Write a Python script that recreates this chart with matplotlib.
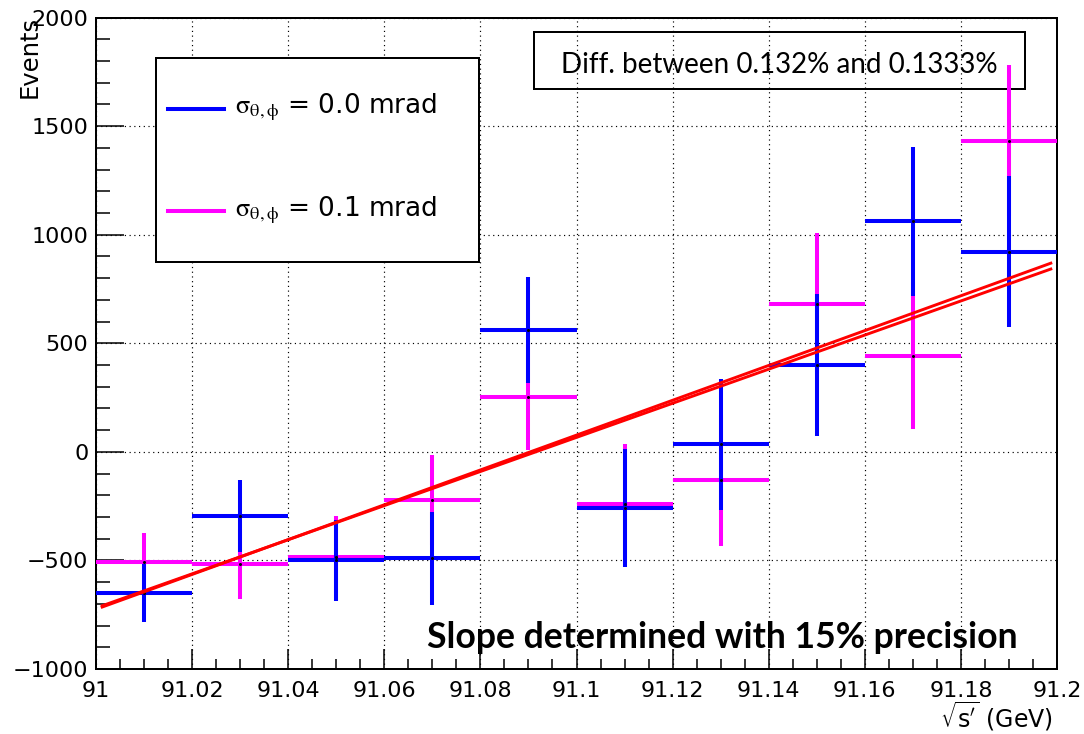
import matplotlib
matplotlib.use("Agg")
import matplotlib.pyplot as plt
import numpy as np
from matplotlib.patches import Rectangle
from matplotlib.lines import Line2D
from matplotlib.ticker import MultipleLocator, FixedLocator, FixedFormatter

# ---------------- data ----------------
bin_centers = [91.01, 91.03, 91.05, 91.07, 91.09, 91.11, 91.13, 91.15, 91.17, 91.19]
bin_halfwidths = [0.01, 0.01, 0.01, 0.01, 0.01, 0.01, 0.01, 0.01, 0.01, 0.01]

blue_values = [-650, -296, -500, -490, 560, -258, 34, 400, 1061, 922]
blue_errors = [134, 165, 185, 213, 245, 273, 301, 325, 342, 348]

magenta_values = [-508, -517, -483, -222, 253, -238, -132, 682, 443, 1432]
magenta_errors = [134, 161, 188, 207, 246, 273, 302, 324, 340, 347]

fit_x_range = [91.001, 91.199]
fit_a_ends = [-717, 871]
fit_b_ends = [-711, 844]

x_ticks = [91.0, 91.02, 91.04, 91.06, 91.08, 91.1, 91.12, 91.14, 91.16, 91.18, 91.2]
x_tick_labels = ["91", "91.02", "91.04", "91.06", "91.08", "91.1", "91.12",
                 "91.14", "91.16", "91.18", "91.2"]
y_ticks = [-1000, -500, 0, 500, 1000, 1500, 2000]
y_tick_labels = ["\u22121000", "\u2212500", "0", "500", "1000", "1500", "2000"]

legend_labels = [r"$\mathrm{\sigma}_{\mathrm{\theta,\phi}}$ = 0.0 mrad",
                 r"$\mathrm{\sigma}_{\mathrm{\theta,\phi}}$ = 0.1 mrad"]
BLUE = "#0000ff"
MAGENTA = "#ff00ff"
RED = "#ff0000"

# ---------------- figure ----------------
W, H = 1084, 734
fig = plt.figure(figsize=(W / 100, H / 100), dpi=100)
fig.patch.set_facecolor("white")


def fx(px):
    return px / W


def fy(py):
    return 1 - py / H


ax = fig.add_axes([fx(96), fy(669), (1057 - 96) / W, (669 - 17.5) / H])
ax.set_xlim(91.0, 91.2)
ax.set_ylim(-1000, 2000)

ax.errorbar(bin_centers, magenta_values, xerr=bin_halfwidths, yerr=magenta_errors,
            fmt="none", ecolor=MAGENTA, elinewidth=2.9, capsize=0, zorder=3)
ax.errorbar(bin_centers, blue_values, xerr=bin_halfwidths, yerr=blue_errors,
            fmt="none", ecolor=BLUE, elinewidth=2.9, capsize=0, zorder=4)
ax.plot(bin_centers, magenta_values, linestyle="none", marker="o", ms=1.2,
        color="black", zorder=4.5)
ax.plot(bin_centers, blue_values, linestyle="none", marker="o", ms=1.2,
        color="black", zorder=4.5)

fx_line = np.linspace(fit_x_range[0], fit_x_range[1], 50)
for ends in (fit_a_ends, fit_b_ends):
    yv = np.interp(fx_line, fit_x_range, ends)
    ax.plot(fx_line, yv, color=RED, lw=2.1, zorder=5, solid_capstyle="butt")

# grid
ax.set_axisbelow(True)
ax.grid(True, which="major", color="black", linestyle=(0, (1, 3)), linewidth=0.85)

# ticks
ax.xaxis.set_major_locator(FixedLocator(x_ticks))
ax.xaxis.set_major_formatter(FixedFormatter(x_tick_labels))
ax.yaxis.set_major_locator(FixedLocator(y_ticks))
ax.yaxis.set_major_formatter(FixedFormatter(y_tick_labels))
ax.xaxis.set_minor_locator(MultipleLocator(0.005))
ax.yaxis.set_minor_locator(MultipleLocator(100))
ax.tick_params(axis="x", which="major", direction="in", length=14.4, width=1.1,
               labelsize=16, pad=8.5, top=False)
ax.tick_params(axis="x", which="minor", direction="in", length=7.2, width=1.1, top=False)
ax.tick_params(axis="y", which="major", direction="in", length=20, width=1.1,
               labelsize=16, pad=5.5, right=False)
ax.tick_params(axis="y", which="minor", direction="in", length=10, width=1.1, right=False)
for s in ax.spines.values():
    s.set_linewidth(1.44)

# axis titles
fig.text(fx(30), fy(16), "Events", rotation=90, ha="center", va="top", fontsize=17.5)
fig.text(fx(1053), fy(716), r"$\sqrt{\mathrm{s}'}$ (GeV)", ha="right", va="center",
         fontsize=17, math_fontfamily="dejavusans")

# legend box (filled)
fig.add_artist(Rectangle((fx(156), fy(262)), (479 - 156) / W, (262 - 58) / H,
                         transform=fig.transFigure, facecolor="white",
                         edgecolor="black", linewidth=1.44, zorder=10))
for (ly, by, col, lab) in [(109, 113, BLUE, legend_labels[0]),
                           (211, 216.5, MAGENTA, legend_labels[1])]:
    fig.add_artist(Line2D([fx(168), fx(224)], [fy(ly), fy(ly)], color=col, lw=2.9,
                          transform=fig.transFigure, zorder=11))
    fig.text(fx(235), fy(by), lab, ha="left", va="baseline", fontsize=19,
             math_fontfamily="stix", zorder=11)

# info box (transparent, behind data)
ax.add_patch(Rectangle((fx(534), fy(89)), (1025 - 534) / W, (89 - 32) / H,
                       transform=fig.transFigure, facecolor="none",
                       edgecolor="black", linewidth=1.44, zorder=2,
                       clip_on=False))
fig.text(fx(779), fy(73), "Diff. between 0.132% and 0.1333%", ha="center",
         va="baseline", family="Lato", fontsize=20, zorder=11)

fig.text(fx(427), fy(648), "Slope determined with 15% precision", ha="left",
         va="baseline", family="Lato", fontweight="bold", fontsize=25.7, zorder=11)

fig.savefig("out.png", dpi=100, facecolor="white")
